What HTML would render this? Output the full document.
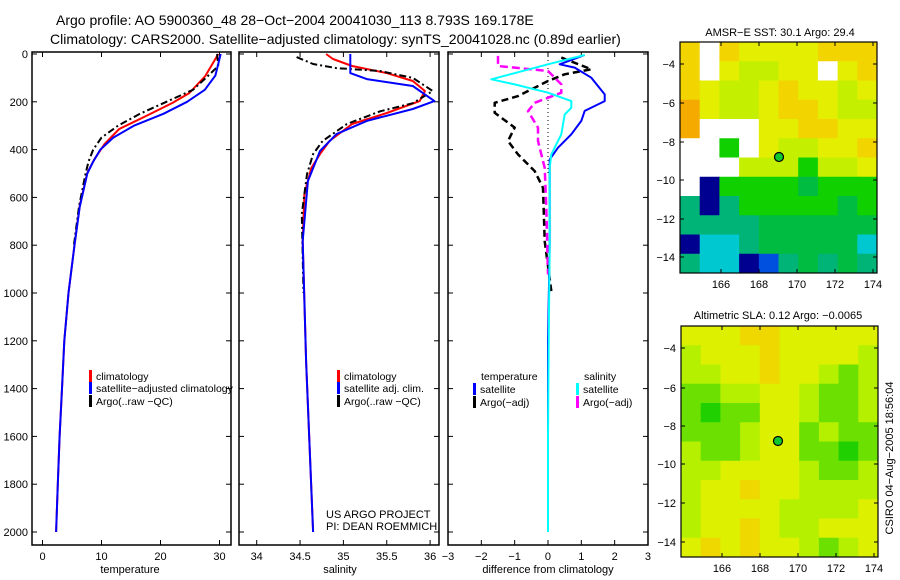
<!DOCTYPE html>
<html><head><meta charset="utf-8"><style>
html,body{margin:0;padding:0;background:#fff;}
svg{display:block;font-family:"Liberation Sans",sans-serif;}
text{fill:#000;}
</style></head><body>
<svg id="fig" width="900" height="580" viewBox="0 0 900 580" xmlns="http://www.w3.org/2000/svg">
<text x="56" y="25" font-size="14">Argo profile: AO 5900360_48 28−Oct−2004 20041030_113 8.793S 169.178E</text>
<text x="50" y="44" font-size="14">Climatology: CARS2000. Satellite−adjusted climatology: synTS_20041028.nc (0.89d earlier)</text>
<g id="plots"></g>
<text x="130" y="573" font-size="11" text-anchor="middle">temperature</text>
<text x="340" y="573" font-size="11" text-anchor="middle">salinity</text>
<text x="548" y="573" font-size="11" text-anchor="middle">difference from climatology</text>
<text x="780" y="36" font-size="11" text-anchor="middle">AMSR−E SST: 30.1 Argo: 29.4</text>
<text x="778" y="319" font-size="11" text-anchor="middle">Altimetric SLA: 0.12 Argo: −0.0065</text>
<text transform="translate(893,458) rotate(-90)" font-size="11" text-anchor="middle">CSIRO 04−Aug−2005 18:56:04</text>
<text x="326" y="518" font-size="11">US ARGO PROJECT</text>
<text x="326" y="530" font-size="11">PI: DEAN ROEMMICH</text>
</svg>
<script>
// ---------- data ----------
const depthTicks=[0,200,400,600,800,1000,1200,1400,1600,1800,2000];
const tempTicks=[0,10,20,30];
const salTicks=[34,34.5,35,35.5,36];
const diffTicks=[-3,-2,-1,0,1,2,3];
const tClimD=[0,92,163,205,260,314,377,440,498,636,803,1000,1200,1400,1600,1800,2000];
const tClimV=[29.8,27.6,24.9,22,17.5,13,10.5,8.8,7.6,6.3,5.4,4.4,3.7,3.3,2.9,2.6,2.3];
const tSatD=[0,90,150,200,250,300,350,400,450,500,640,803,1000,1200,1400,1600,1800,2000];
const tSatV=[30.2,29.3,27.5,24.5,20.5,15.5,12,9.8,8.6,7.6,6.3,5.4,4.4,3.7,3.3,2.9,2.6,2.3];
const tArgoD=[0,50,100,150,200,250,300,350,400,450,500,636,803];
const tArgoV=[29.6,29.8,27.7,25.5,21,16.5,12.8,10,8.6,7.8,7.3,6.2,5.3];
const sClimD=[0,21,50,80,113,155,197,247,293,364,419,477,586,783,1285,2000];
const sClimV=[34.8,34.88,35.1,35.5,35.8,35.94,35.88,35.5,35.1,34.84,34.73,34.63,34.55,34.53,34.57,34.65];
const sSatD=[0,80,105,134,197,230,280,335,406,532,783,1285,2000];
const sSatV=[35.08,35.08,35.27,35.8,36.05,35.8,35.27,34.92,34.73,34.59,34.53,34.57,34.65];
const sArgoD=[13,42,59,71,100,155,206,240,293,364,419,503,670,1000];
const sArgoV=[34.46,34.65,34.92,35.42,35.8,36.03,35.8,35.42,35.04,34.76,34.65,34.58,34.52,34.54];
const dTSatD=[4,43,57,99,169,197,238,280,336,392,441,800,1200,1600,2000];
const dTSatV=[1.1,0.35,0.8,1.3,1.7,1.7,1.1,1.0,0.7,0.3,0.05,0.05,0.0,0.0,0.0];
const dSSatD=[4,43,106,127,162,197,225,253,336,420,476,800,1200,1600,2000];
const dSSatV=[1.1,0,-1.7,-1.0,0,0.7,0.7,0.5,0.4,0.1,0.05,0.05,0.02,0.0,0.0];
const dTArgoD=[15,64,85,113,176,204,246,308,364,420,490,560,783,992];
const dTArgoV=[0.4,1.3,0.5,0,-0.9,-1.6,-1.6,-1.0,-1.2,-0.9,-0.4,-0.15,-0.1,0.1];
const dSArgoD=[8,50,71,99,127,162,204,239,308,364,476,643,922];
const dSArgoV=[-1.5,-1.5,0,0.2,0.4,0.4,-0.4,-0.6,-0.3,-0.3,-0.1,-0.05,0];

const NS='http://www.w3.org/2000/svg';
const root=document.getElementById('plots');
function mk(tag,attrs,parent){const e=document.createElementNS(NS,tag);for(const k in attrs)e.setAttribute(k,attrs[k]);(parent||root).appendChild(e);return e;}
const Y0=54, YS=0.239, TOP=52, BOT=545;
const yOf=d=>Y0+d*YS;

function panel(name,left,right,x0,sx,ticks,fmt,showY){
  const g=mk('g',{});
  
  
  const r=mk('rect',{x:left,y:TOP,width:right-left,height:BOT-TOP,fill:'none',stroke:'#000','stroke-width':1.5},g);
  
  
  const xOf=v=>x0+(v-ticks[0])*sx;
  ticks.forEach(t=>{const x=xOf(t);
    mk('line',{x1:x,x2:x,y1:TOP,y2:TOP+5,stroke:'#000'},g);
    mk('line',{x1:x,x2:x,y1:BOT,y2:BOT-5,stroke:'#000'},g);
    const tx=mk('text',{x:x,y:BOT+15,'font-size':11,'text-anchor':'middle'},g);
    tx.textContent=fmt(t);
    
    
  });
  depthTicks.forEach(d=>{const y=yOf(d);
    mk('line',{x1:left,x2:left+5,y1:y,y2:y,stroke:'#000'},g);
    mk('line',{x1:right,x2:right-5,y1:y,y2:y,stroke:'#000'},g);
    if(showY){const tx=mk('text',{x:28,y:y+4,'font-size':11,'text-anchor':'end'},g);tx.textContent=d;
      
      }
  });
  return {g,xOf};
}
function series(p,name,D,V,color,dash,w){
  const pts=D.map((d,i)=>p.xOf(V[i]).toFixed(1)+','+yOf(d).toFixed(1)).join(' ');
  const l=mk('polyline',{points:pts,fill:'none',stroke:color,'stroke-width':w||2,'stroke-dasharray':dash||'none','stroke-linejoin':'round'},p.g);
  
  
}
function legend(p,x,y,color,label,name){
  const b=mk('rect',{x:x,y:y-6,width:3,height:12,fill:color},p.g);
  
  
  if(label){const t=mk('text',{x:x+7,y:y+4,'font-size':10.5},p.g);t.textContent=label;
    
    }
}
const p1=panel('temperature-panel',32,231,42.5,5.9,tempTicks,t=>t,true);
series(p1,'temp-climatology-line',tClimD,tClimV,'#f00');
series(p1,'temp-argo-line',tArgoD,tArgoV,'#000','7,3,2,3');
series(p1,'temp-satellite-line',tSatD,tSatV,'#00f');
legend(p1,89,376,'#f00','climatology','legend-climatology');
legend(p1,89,388,'#00f','satellite−adjusted climatology','legend-satellite');
legend(p1,89,401,'#000','Argo(..raw −QC)','legend-argo');

const p2=panel('salinity-panel',239,439,256.7,86.7,salTicks,t=>t,false);
series(p2,'sal-climatology-line',sClimD,sClimV,'#f00');
series(p2,'sal-argo-line',sArgoD,sArgoV,'#000','7,3,2,3');
series(p2,'sal-satellite-line',sSatD,sSatV,'#00f');
legend(p2,337,376,'#f00','climatology','legend-climatology');
legend(p2,337,388,'#00f','satellite adj. clim.','legend-satellite');
legend(p2,337,401,'#000','Argo(..raw −QC)','legend-argo');

const p3=panel('difference-panel',448,648,448,33.33,diffTicks,t=>t<0?'−'+(-t):t,false);
mk('line',{x1:548,x2:548,y1:TOP,y2:175,stroke:'#000','stroke-dasharray':'1,3'},p3.g);
series(p3,'diff-temp-argo-line',dTArgoD,dTArgoV,'#000','7,4',2.5);
series(p3,'diff-sal-argo-line',dSArgoD,dSArgoV,'#f0f','8,4',2.5);
series(p3,'diff-temp-satellite-line',dTSatD,dTSatV,'#00f');
series(p3,'diff-sal-satellite-line',dSSatD,dSSatV,'#0ff');
{const t=mk('text',{x:481,y:380,'font-size':10.5},p3.g);t.textContent='temperature';}
{const t=mk('text',{x:584,y:380,'font-size':10.5},p3.g);t.textContent='salinity';}
legend(p3,473,389,'#00f','satellite','legend-temp-satellite');
legend(p3,473,402,'#000','Argo(−adj)','legend-temp-argo');
legend(p3,576,389,'#0ff','satellite','legend-sal-satellite');
legend(p3,576,402,'#f0f','Argo(−adj)','legend-sal-argo');

// ---------- maps ----------
const sstGrid=["YWYyyyyYYY","YWyllyyWyY","YyllyYyyly","oyllyYYyll","oWWWyyYYyy","WWgWyllyyY","WWWlllglly","WnggggGggg","tntgggggGg","ttttGGGGGG","ncctGGGGGc","tccnbtGtGt"];
const sstCol={y:'#e4ee00',Y:'#f2d400',o:'#f5aa00',l:'#c4f000',g:'#10d000',G:'#00bc40',t:'#00b478',c:'#00c8d0',b:'#0050e0',n:'#000090',W:'#ffffff'};
const slaGrid=["yyyYYyyyyy","lyyyYyyyyl","llyyYyylgl","ggllyylggl","gGggyylggl","ggglyyglgg","lgglyyggGg","llyyyylggl","lyyYyyllll","lyyyylllly","lyyYyllyyy","yYyYyylgly"];
const slaCol={y:'#dcf000',Y:'#eed800',l:'#b4f000',g:'#6ce000',G:'#20d000'};
function map(name,x0,y0,w,h,grid,cols,ticksY,mx,my){
  const g=mk('g',{});
  
  
  const cw=w/grid[0].length, ch=h/grid.length;
  grid.forEach((row,r)=>[...row].forEach((c,k)=>{
    mk('rect',{x:x0+k*cw,y:y0+r*ch,width:cw+0.5,height:ch+0.5,fill:cols[c]},g);
  }));
  const fr=mk('rect',{x:x0,y:y0,width:w,height:h,fill:'none',stroke:'#000','stroke-width':1.2},g);
  
  
  [166,168,170,172,174].forEach(lon=>{const x=x0+41+(lon-166)*19;
    mk('line',{x1:x,x2:x,y1:y0+h,y2:y0+h-4,stroke:'#000'},g);
    mk('line',{x1:x,x2:x,y1:y0,y2:y0+4,stroke:'#000'},g);
    const t=mk('text',{x:x,y:y0+h+15,'font-size':11,'text-anchor':'middle'},g);t.textContent=lon;
    });
  ticksY.forEach((yy,i)=>{const lat=-4-2*i;
    mk('line',{x1:x0,x2:x0+4,y1:yy,y2:yy,stroke:'#000'},g);
    mk('line',{x1:x0+w,x2:x0+w-4,y1:yy,y2:yy,stroke:'#000'},g);
    const t=mk('text',{x:x0-5,y:yy+4,'font-size':11,'text-anchor':'end'},g);t.textContent='−'+(-lat);
    });
  const m=mk('circle',{cx:mx,cy:my,r:4.5,fill:'#10c830',stroke:'#000','stroke-width':1.2},g);
  
  
}
map('sst-map',680,42,197,231,sstGrid,sstCol,[64,103,142,180,219,257],779,157);
map('sla-map',681,326,197,231,slaGrid,slaCol,[348,388,426,464,503,542],778,441);
</script>
</body></html>
